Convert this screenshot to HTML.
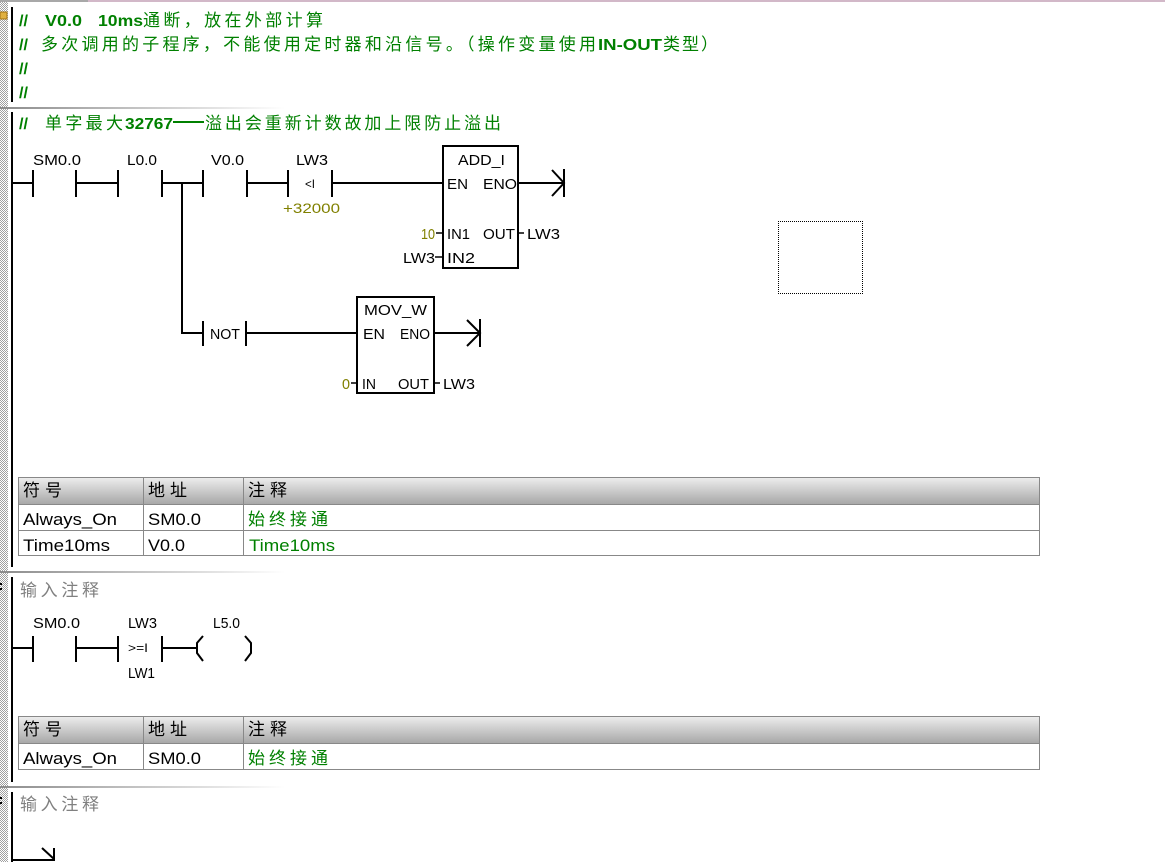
<!DOCTYPE html>
<html><head><meta charset="utf-8">
<style>
html,body{margin:0;padding:0;background:#fff;}
svg{display:block;}
text{font-family:"Liberation Sans","Noto Sans CJK SC",sans-serif;}
.cj{font-family:"Liberation Sans","Noto Sans CJK SC",sans-serif;font-size:17px;}
.lb{font-size:15px;fill:#000;}
.tb{font-size:17px;fill:#000;}
.ol{fill:#808000;}
.g{fill:#008000;}
.gr{fill:#808080;}
</style></head><body>
<svg width="1165" height="862" viewBox="0 0 1165 862" xmlns="http://www.w3.org/2000/svg">
<defs>
<pattern id="chk" width="2" height="2" patternUnits="userSpaceOnUse"><rect width="2" height="2" fill="#fff"/><rect width="1" height="1" fill="#a0a0a0"/><rect x="1" y="1" width="1" height="1" fill="#a0a0a0"/></pattern>
<linearGradient id="sep" x1="0" x2="1" y1="0" y2="0"><stop offset="0" stop-color="#8c8c8c"/><stop offset="1" stop-color="#ffffff"/></linearGradient>
<linearGradient id="hdr" x1="0" x2="0" y1="0" y2="1"><stop offset="0" stop-color="#ececec"/><stop offset="1" stop-color="#a8a8a8"/></linearGradient>
</defs>

<!-- top line -->
<rect x="0" y="0" width="1165" height="2" fill="#d2b8c8"/>
<rect x="0" y="0" width="88" height="2" fill="#a8a8a8"/>

<!-- left checker strip -->
<rect x="0" y="2" width="8" height="860" fill="url(#chk)"/>
<rect x="0" y="12" width="7" height="7" fill="#e0b040" stroke="#a07010" stroke-width="1"/>
<rect x="0" y="583" width="2" height="2" fill="#000"/>
<rect x="0" y="588" width="2" height="2" fill="#000"/>
<rect x="0" y="797" width="2" height="2" fill="#000"/>
<rect x="0" y="802" width="2" height="2" fill="#000"/>

<!-- separators -->
<rect x="0" y="107" width="285" height="2" fill="url(#sep)"/>
<rect x="0" y="571" width="285" height="2" fill="url(#sep)"/>
<rect x="0" y="786" width="285" height="2" fill="url(#sep)"/>

<!-- left rails -->
<rect x="11" y="7" width="2" height="95" fill="#000"/>
<rect x="11" y="112" width="2" height="455" fill="#000"/>
<rect x="11" y="577" width="2" height="205" fill="#000"/>
<rect x="11" y="792" width="2" height="70" fill="#000"/>

<!-- Network 0 comments -->
<text x="19" y="26" font-size="16" font-weight="bold" class="g" textLength="9" lengthAdjust="spacingAndGlyphs">//</text>
<text x="45" y="26" font-size="16" font-weight="bold" class="g" textLength="37" lengthAdjust="spacingAndGlyphs">V0.0</text>
<text x="98" y="26" font-size="16" font-weight="bold" class="g" textLength="45" lengthAdjust="spacingAndGlyphs">10ms</text>
<text x="143" y="26" class="cj g" textLength="180" lengthAdjust="spacing">通断，放在外部计算</text>

<text x="19" y="50" font-size="16" font-weight="bold" class="g" textLength="9" lengthAdjust="spacingAndGlyphs">//</text>
<text x="41" y="50" class="cj g" textLength="555" lengthAdjust="spacing">多次调用的子程序，不能使用定时器和沿信号。（操作变量使用</text>
<text x="598" y="50" font-size="16" font-weight="bold" class="g" textLength="64" lengthAdjust="spacingAndGlyphs">IN-OUT</text>
<text x="663" y="50" class="cj g" textLength="55" lengthAdjust="spacing">类型）</text>

<text x="19" y="74" font-size="16" font-weight="bold" class="g" textLength="9" lengthAdjust="spacingAndGlyphs">//</text>
<text x="19" y="98" font-size="16" font-weight="bold" class="g" textLength="9" lengthAdjust="spacingAndGlyphs">//</text>

<!-- Network 1 comment -->
<text x="19" y="129" font-size="16" font-weight="bold" class="g" textLength="9" lengthAdjust="spacingAndGlyphs">//</text>
<text x="45" y="129" class="cj g" textLength="78" lengthAdjust="spacing">单字最大</text>
<text x="125" y="129" font-size="16" font-weight="bold" class="g" textLength="48" lengthAdjust="spacingAndGlyphs">32767</text>
<rect x="173" y="121" width="31" height="2" fill="#008000"/>
<text x="205" y="129" class="cj g" textLength="296" lengthAdjust="spacing">溢出会重新计数故加上限防止溢出</text>

<!-- Network 1 ladder -->
<g stroke="#000" stroke-width="2" fill="none">
  <line x1="13" y1="183" x2="33" y2="183"/>
  <line x1="33" y1="170" x2="33" y2="197"/>
  <line x1="76" y1="170" x2="76" y2="197"/>
  <line x1="76" y1="183" x2="118" y2="183"/>
  <line x1="118" y1="170" x2="118" y2="197"/>
  <line x1="162" y1="170" x2="162" y2="197"/>
  <line x1="162" y1="183" x2="203" y2="183"/>
  <line x1="203" y1="170" x2="203" y2="197"/>
  <line x1="247" y1="170" x2="247" y2="197"/>
  <line x1="247" y1="183" x2="288" y2="183"/>
  <line x1="288" y1="170" x2="288" y2="197"/>
  <line x1="332" y1="170" x2="332" y2="197"/>
  <line x1="332" y1="183" x2="443" y2="183"/>
  <rect x="443" y="146" width="75" height="122"/>
  <line x1="518" y1="183" x2="564" y2="183"/>
  <polyline points="552,170 564,183 552,196"/>
  <line x1="564" y1="169" x2="564" y2="197"/>
  <!-- junction branch -->
  <line x1="182" y1="183" x2="182" y2="334"/>
  <line x1="181" y1="333" x2="203" y2="333"/>
  <line x1="203" y1="321" x2="203" y2="346"/>
  <line x1="246" y1="321" x2="246" y2="346"/>
  <line x1="246" y1="333" x2="357" y2="333"/>
  <rect x="357" y="297" width="77" height="96"/>
  <line x1="434" y1="333" x2="480" y2="333"/>
  <polyline points="467,320 480,333 467,346"/>
  <line x1="480" y1="319" x2="480" y2="347"/>
</g>
<g stroke="#000" stroke-width="1.5">
  <line x1="436" y1="233" x2="443" y2="233"/>
  <line x1="518" y1="233" x2="524" y2="233"/>
  <line x1="435" y1="257" x2="443" y2="257"/>
  <line x1="351" y1="383" x2="357" y2="383"/>
  <line x1="434" y1="383" x2="440" y2="383"/>
</g>

<text x="33" y="165" class="lb" textLength="48" lengthAdjust="spacingAndGlyphs">SM0.0</text>
<text x="127" y="165" class="lb" textLength="30" lengthAdjust="spacingAndGlyphs">L0.0</text>
<text x="211" y="165" class="lb" textLength="33" lengthAdjust="spacingAndGlyphs">V0.0</text>
<text x="296" y="165" class="lb" textLength="32" lengthAdjust="spacingAndGlyphs">LW3</text>
<text x="305" y="188" font-size="12" textLength="10" lengthAdjust="spacingAndGlyphs">&lt;I</text>
<text x="283" y="213" font-size="14" class="ol" textLength="57" lengthAdjust="spacingAndGlyphs">+32000</text>

<text x="458" y="165" class="lb" textLength="47" lengthAdjust="spacingAndGlyphs">ADD_I</text>
<text x="447" y="189" class="lb" textLength="21" lengthAdjust="spacingAndGlyphs">EN</text>
<text x="483" y="189" class="lb" textLength="34" lengthAdjust="spacingAndGlyphs">ENO</text>
<text x="421" y="239" font-size="15" fill="#808000" textLength="14" lengthAdjust="spacingAndGlyphs">10</text>
<text x="447" y="239" class="lb" textLength="23" lengthAdjust="spacingAndGlyphs">IN1</text>
<text x="483" y="239" class="lb" textLength="32" lengthAdjust="spacingAndGlyphs">OUT</text>
<text x="527" y="239" class="lb" textLength="33" lengthAdjust="spacingAndGlyphs">LW3</text>
<text x="403" y="263" class="lb" textLength="32" lengthAdjust="spacingAndGlyphs">LW3</text>
<text x="447" y="263" class="lb" textLength="28" lengthAdjust="spacingAndGlyphs">IN2</text>

<text x="210" y="339" class="lb" textLength="30" lengthAdjust="spacingAndGlyphs">NOT</text>
<text x="364" y="315" class="lb" textLength="63" lengthAdjust="spacingAndGlyphs">MOV_W</text>
<text x="363" y="339" class="lb" textLength="22" lengthAdjust="spacingAndGlyphs">EN</text>
<text x="400" y="339" class="lb" textLength="30" lengthAdjust="spacingAndGlyphs">ENO</text>
<text x="342" y="389" font-size="15" fill="#808000" textLength="8" lengthAdjust="spacingAndGlyphs">0</text>
<text x="362" y="389" class="lb" textLength="14" lengthAdjust="spacingAndGlyphs">IN</text>
<text x="398" y="389" class="lb" textLength="31" lengthAdjust="spacingAndGlyphs">OUT</text>
<text x="443" y="389" class="lb" textLength="32" lengthAdjust="spacingAndGlyphs">LW3</text>

<!-- dotted box -->
<g fill="none" stroke="#000" stroke-width="1" stroke-dasharray="1 1" shape-rendering="crispEdges">
  <line x1="778" y1="221.5" x2="863" y2="221.5"/>
  <line x1="778" y1="293.5" x2="863" y2="293.5"/>
  <line x1="778.5" y1="221" x2="778.5" y2="294"/>
  <line x1="862.5" y1="221" x2="862.5" y2="294"/>
</g>

<!-- Table 1 -->
<rect x="19" y="478" width="1020" height="26" fill="url(#hdr)"/>
<g stroke="#888" stroke-width="1" fill="none">
  <rect x="18.5" y="477.5" width="1021" height="78"/>
  <line x1="18" y1="504.5" x2="1040" y2="504.5"/>
  <line x1="18" y1="530.5" x2="1040" y2="530.5"/>
  <line x1="143.5" y1="477" x2="143.5" y2="556"/>
  <line x1="243.5" y1="477" x2="243.5" y2="556"/>
</g>
<text x="23" y="496" class="cj" fill="#000" textLength="39" lengthAdjust="spacing">符号</text>
<text x="148" y="496" class="cj" fill="#000" textLength="39" lengthAdjust="spacing">地址</text>
<text x="248" y="496" class="cj" fill="#000" textLength="39" lengthAdjust="spacing">注释</text>
<text x="23" y="525" class="tb" textLength="94" lengthAdjust="spacingAndGlyphs">Always_On</text>
<text x="148" y="525" class="tb" textLength="53" lengthAdjust="spacingAndGlyphs">SM0.0</text>
<text x="248" y="525" class="cj g" textLength="80" lengthAdjust="spacing">始终接通</text>
<text x="23" y="551" class="tb" textLength="87" lengthAdjust="spacingAndGlyphs">Time10ms</text>
<text x="148" y="551" class="tb" textLength="37" lengthAdjust="spacingAndGlyphs">V0.0</text>
<text x="249" y="551" font-size="17" fill="#008000" textLength="86" lengthAdjust="spacingAndGlyphs">Time10ms</text>

<!-- Network 2 -->
<text x="20" y="596" class="cj gr" textLength="79" lengthAdjust="spacing">输入注释</text>
<g stroke="#000" stroke-width="2" fill="none">
  <line x1="13" y1="648" x2="33" y2="648"/>
  <line x1="33" y1="636" x2="33" y2="662"/>
  <line x1="76" y1="636" x2="76" y2="662"/>
  <line x1="76" y1="648" x2="118" y2="648"/>
  <line x1="118" y1="636" x2="118" y2="662"/>
  <line x1="162" y1="636" x2="162" y2="662"/>
  <line x1="162" y1="648" x2="197" y2="648"/>
  <polyline points="203,636 197,643 197,653 203,661"/>
  <polyline points="245,636 251,643 251,653 245,661"/>
</g>
<text x="33" y="628" class="lb" textLength="47" lengthAdjust="spacingAndGlyphs">SM0.0</text>
<text x="128" y="628" class="lb" textLength="29" lengthAdjust="spacingAndGlyphs">LW3</text>
<text x="128" y="652" font-size="12" textLength="20" lengthAdjust="spacingAndGlyphs">&gt;=I</text>
<text x="128" y="678" class="lb" textLength="27" lengthAdjust="spacingAndGlyphs">LW1</text>
<text x="213" y="628" class="lb" textLength="27" lengthAdjust="spacingAndGlyphs">L5.0</text>

<!-- Table 2 -->
<rect x="19" y="717" width="1020" height="26" fill="url(#hdr)"/>
<g stroke="#888" stroke-width="1" fill="none">
  <rect x="18.5" y="716.5" width="1021" height="53"/>
  <line x1="18" y1="743.5" x2="1040" y2="743.5"/>
  <line x1="143.5" y1="716" x2="143.5" y2="770"/>
  <line x1="243.5" y1="716" x2="243.5" y2="770"/>
</g>
<text x="23" y="735" class="cj" fill="#000" textLength="39" lengthAdjust="spacing">符号</text>
<text x="148" y="735" class="cj" fill="#000" textLength="39" lengthAdjust="spacing">地址</text>
<text x="248" y="735" class="cj" fill="#000" textLength="39" lengthAdjust="spacing">注释</text>
<text x="23" y="764" class="tb" textLength="94" lengthAdjust="spacingAndGlyphs">Always_On</text>
<text x="148" y="764" class="tb" textLength="53" lengthAdjust="spacingAndGlyphs">SM0.0</text>
<text x="248" y="764" class="cj g" textLength="80" lengthAdjust="spacing">始终接通</text>

<!-- Network 3 -->
<text x="20" y="810" class="cj gr" textLength="79" lengthAdjust="spacing">输入注释</text>
<g stroke="#000" stroke-width="2" fill="none">
  <line x1="11" y1="860" x2="55" y2="860"/>
  <line x1="42" y1="848" x2="54" y2="859"/>
  <line x1="54" y1="848" x2="54" y2="861"/>
</g>
</svg>
</body></html>
